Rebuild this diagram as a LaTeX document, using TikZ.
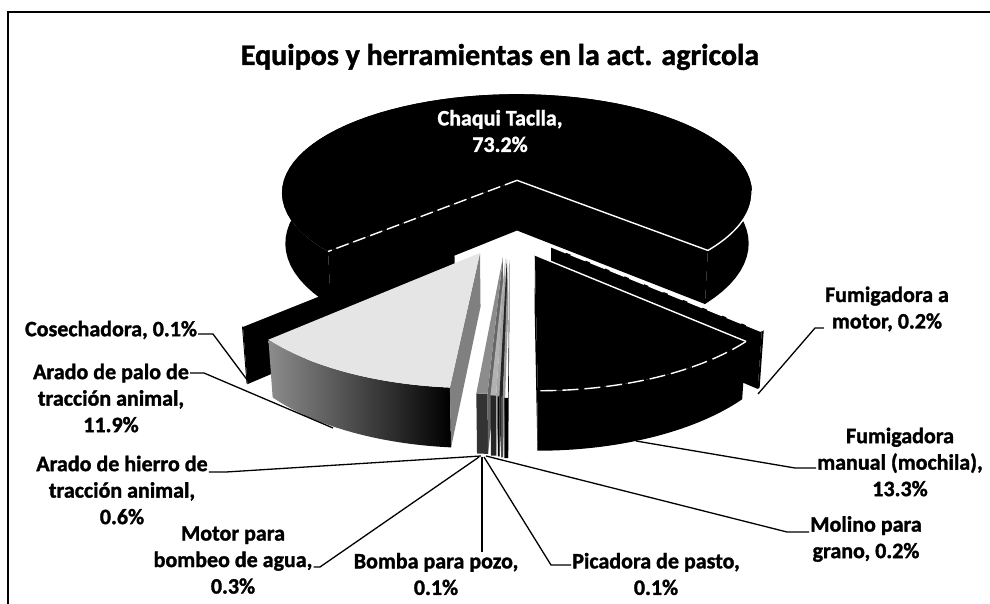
\documentclass[tikz,border=0pt]{standalone}
\usepackage{fontspec}
\setmainfont{Carlito}[BoldFeatures={FakeBold=1.4}]
\newcommand\pieWall[5]{\path[#5] plot[domain=#3:#4,samples=70,variable=\t] ({TX(#1,#2,\t)},{TY(#1,#2,\t)}) -- plot[domain=#4:#3,samples=70,variable=\t] ({BX(#1,#2,\t)},{BY(#1,#2,\t)}) -- cycle;}
\newcommand\pieTop[5]{\path[#5] ({PX(#1,#2,0.24)},{PY(#1,#2,0.24)}) -- plot[domain=#3:#4,samples=70,variable=\t] ({TX(#1,#2,\t)},{TY(#1,#2,\t)}) -- cycle;}
\newcommand\pieCut[4]{\path[#4] ({PX(#1,#2,0.24)},{PY(#1,#2,0.24)}) -- ({TX(#1,#2,#3)},{TY(#1,#2,#3)}) -- ({BX(#1,#2,#3)},{BY(#1,#2,#3)}) -- ({PX(#1,#2,0)},{PY(#1,#2,0)}) -- cycle;}
\newcommand\pieRim[5]{\path[#5] plot[domain=#3:#4,samples=40,variable=\t] ({TX(#1,#2,\t)},{TY(#1,#2,\t)});}
\newcommand\pieRad[4]{\path[#4] ({PX(#1,#2,0.24)},{PY(#1,#2,0.24)}) -- ({TX(#1,#2,#3)},{TY(#1,#2,#3)});}
\begin{document}
\begin{tikzpicture}[x=1pt,y=-1pt,
  declare function={
    dep(\ub,\uc)=7.61-(\ub+0.40)*0.9063-\uc*0.4226;
    PX(\ua,\ub,\uc)=517+1666*\ua/dep(\ub,\uc);
    PY(\ua,\ub,\uc)=191.65+1666*((\ub+0.40)*0.4226-\uc*0.9063)/dep(\ub,\uc);
    TX(\ua,\ub,\ud)=PX(\ua+cos(\ud),\ub+sin(\ud),0.24);
    TY(\ua,\ub,\ud)=PY(\ua+cos(\ud),\ub+sin(\ud),0.24);
    BX(\ua,\ub,\ud)=PX(\ua+cos(\ud),\ub+sin(\ud),0);
    BY(\ua,\ub,\ud)=PY(\ua+cos(\ud),\ub+sin(\ud),0);
  },
  lab/.style={font=\fontsize{22}{26.5}\selectfont\bfseries, align=center, inner sep=1pt},
  lead/.style={line width=1.3pt, black},
  wline/.style={draw=white, line width=1.4pt},
  blk/.style={fill=black},
]
\useasboundingbox (0,0) rectangle (990,604);
\fill[white] (0,0) rectangle (990,604);
% frame
\draw[line width=1.6pt] (8,604) -- (8,12) -- (990,12);
% title
\node[font=\fontsize{30}{34}\selectfont\bfseries] (title) at (500,57) {Equipos y herramientas en la act. agricola};

% main slice: Chaqui Taclla
\pieWall{0}{0}{137.88}{401.4}{blk}
\pieCut{0}{0}{137.88}{blk}
\pieCut{0}{0}{41.4}{blk}
\pieTop{0}{0}{137.88}{401.4}{blk}
\pieRad{0}{0}{137.88}{wline, dash pattern=on 13pt off 5pt}
\pieRad{0}{0}{41.4}{wline}
\pieRim{0}{0}{6}{41.4}{wline}

% Fumigadora a motor (thin plate)
\pieWall{0.135}{0.63}{41.4}{42.12}{blk}
\pieCut{0.135}{0.63}{42.12}{blk}
\pieRad{0.135}{0.63}{42.12}{wline, dash pattern=on 16pt off 5pt}

% Cosechadora (thin plate)
\pieWall{-0.249}{0.592}{137.52}{137.88}{blk}
\pieCut{-0.249}{0.592}{137.52}{blk}

% Arado de palo
\pieWall{-0.145}{0.683}{94.68}{137.52}{left color=black!45, right color=black}
\pieCut{-0.145}{0.683}{94.68}{fill=black!50}
\pieTop{-0.145}{0.683}{94.68}{137.52}{fill=black!10}

% thin front slices
\pieWall{-0.055}{0.72}{92.52}{94.68}{fill=black!80}
\pieCut{-0.055}{0.72}{92.52}{fill=black!60}
\pieTop{-0.055}{0.72}{92.52}{94.68}{fill=black!45}
\pieWall{-0.045}{0.73}{91.44}{92.52}{fill=black!85}
\pieCut{-0.045}{0.73}{91.44}{fill=black!35}
\pieTop{-0.045}{0.73}{91.44}{92.52}{fill=black!30}
\pieWall{-0.04}{0.735}{91.08}{91.44}{fill=black}
\pieCut{-0.04}{0.735}{91.08}{fill=black!85}
\pieWall{-0.035}{0.74}{90.72}{91.08}{fill=black!70}
\pieCut{-0.035}{0.74}{90.72}{fill=black!40}
\pieWall{-0.03}{0.745}{90}{90.72}{fill=black}
\pieCut{-0.03}{0.745}{90}{fill=black!90}

% Fumigadora manual
\pieWall{0.07}{0.70}{42.12}{90}{blk}
\pieCut{0.07}{0.70}{90}{blk}
\pieTop{0.07}{0.70}{42.12}{90}{blk}
\pieRad{0.07}{0.70}{42.12}{wline}
\pieRim{0.07}{0.70}{42.12}{90}{wline, dash pattern=on 16pt off 6pt}

% labels
\node[lab, text=white] (lChaq) at (500,131) {Chaqui Taclla,\\73.2\%};
\node[lab] (lCos) at (111,330) {Cosechadora, 0.1\%};
\node[lab] (lPalo) at (111,398) {Arado de palo de\\tracción animal,\\11.9\%};
\node[lab] (lHierro) at (122,490) {Arado de hierro de\\tracción animal,\\0.6\%};
\node[lab] (lMotor) at (233,560) {Motor para\\bombeo de agua,\\0.3\%};
\node[lab] (lBomba) at (436,574) {Bomba para pozo,\\0.1\%};
\node[lab] (lPic) at (656,574) {Picadora de pasto,\\0.1\%};
\node[lab] (lMol) at (866,539) {Molino para\\grano, 0.2\%};
\node[lab] (lFman) at (900,462) {Fumigadora\\manual (mochila),\\13.3\%};
\node[lab] (lFmot) at (887,309) {Fumigadora a\\motor, 0.2\%};

% leader lines
\coordinate (tCos) at (248,381); \coordinate (eCos) at (213,334);
\draw[lead] (tCos) -- (eCos) -- (lCos.east |- eCos);
\coordinate (tPalo) at (333,428); \coordinate (ePalo) at (204,373);
\draw[lead] (tPalo) -- (ePalo) -- (lPalo.east |- ePalo);
\coordinate (tHierro) at (481,456); \coordinate (eHierro) at (226,472);
\draw[lead] (tHierro) -- (eHierro) -- (lHierro.east |- eHierro);
\coordinate (tMotor) at (479,457); \coordinate (eMotor) at (320,567);
\draw[lead] (tMotor) -- (eMotor) -- (lMotor.east |- eMotor);
\coordinate (tBomba) at (482,457);
\draw[lead] (tBomba) -- (tBomba |- lBomba.north);
\coordinate (tPic) at (484,457); \coordinate (ePic) at (551,565);
\draw[lead] (tPic) -- (ePic) -- (lPic.west |- ePic);
\coordinate (tMol) at (486,456); \coordinate (eMol) at (787,532);
\draw[lead] (tMol) -- (eMol) -- (lMol.west |- eMol);
\coordinate (tFman) at (636,441); \coordinate (eFman) at (795,468);
\draw[lead] (tFman) -- (eFman) -- (lFman.west |- eFman);
\coordinate (tFmot) at (758,394); \coordinate (eFmot) at (815,328);
\draw[lead] (tFmot) -- (eFmot) -- (lFmot.west |- eFmot);
\end{tikzpicture}
\end{document}
